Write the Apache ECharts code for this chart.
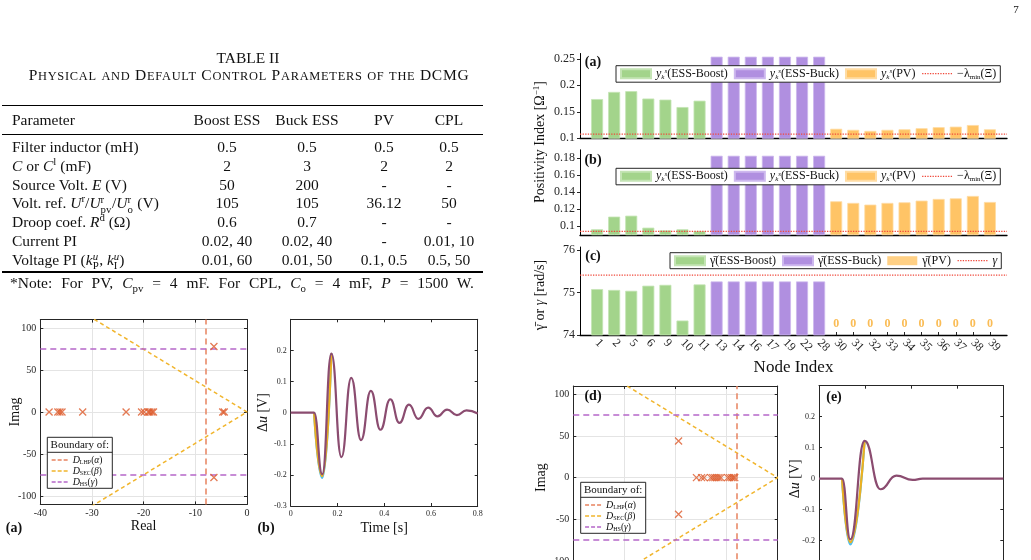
<!DOCTYPE html>
<html>
<head>
<meta charset="utf-8">
<script src="https://cdn.jsdelivr.net/npm/echarts@6/dist/echarts.min.js"></script>
<style>
body { margin: 0; background: #fff; }
#page { position: relative; width: 1031px; height: 560px; overflow: hidden; font-family: 'Liberation Serif', 'DejaVu Serif', serif; color: #111; }
#container { position: absolute; left: 0; top: 0; width: 1031px; height: 560px; }
.t { position: absolute; white-space: nowrap; font-size: 15.5px; line-height: 1; }
.c { transform: translate(-50%, -50%); }
.l { transform: translateY(-50%); }
.rule { position: absolute; left: 2px; width: 481px; background: #000; }
sup, sub { font-size: 0.7em; line-height: 0; }
.ss { display: inline-block; position: relative; height: 1em; font-size: 0.7em; line-height: 1; }
.ss .u { position: absolute; left: 0; top: -0.3em; }
.ss .d { position: absolute; left: 0; bottom: -0.55em; }
</style>
</head>
<body>
<div id="page">
	<div id="container"></div>
	<div id="table"></div>
	<div class="t c" style="left:1016px;top:9px;font-size:11px;">7</div>
</div>
<script>
// ---- table ----
function ss(up, down, w) {
	return '<span class="ss" style="width:' + w + 'em"><span class="u">' + up + '</span><span class="d">' + down + '</span></span>';
}
var tableTitle = 'TABLE II';
var tableCaption = 'Physical and Default Control Parameters of the DCMG';
var tableHeader = ['Parameter', 'Boost ESS', 'Buck ESS', 'PV', 'CPL'];
var tableRows = [
	['Filter inductor (mH)', '0.5', '0.5', '0.5', '0.5'],
	['<i>C</i> or <i>C</i><sup>l</sup> (mF)', '2', '3', '2', '2'],
	['Source Volt. <i>E</i> (V)', '50', '200', '-', '-'],
	['Volt. ref. <i>U</i><sup>r</sup>/<i>U</i>' + ss('r', 'pv', 1.05) + '/<i>U</i>' + ss('r', 'o', 0.55) + ' (V)', '105', '105', '36.12', '50'],
	['Droop coef. <i>R</i><sup>d</sup> (&Omega;)', '0.6', '0.7', '-', '-'],
	['Current PI', '0.02, 40', '0.02, 40', '-', '0.01, 10'],
	['Voltage PI (<i>k</i>' + ss('<i>u</i>', 'P', 0.6) + ', <i>k</i>' + ss('<i>u</i>', 'I', 0.5) + ')', '0.01, 60', '0.01, 50', '0.1, 0.5', '0.5, 50']
];
var tableNote = '*Note: For PV, <i>C</i><sub>pv</sub> = 4 mF. For CPL, <i>C</i><sub>o</sub> = 4 mF, <i>P</i> = 1500 W.';

// ---- top right: positivity index and gamma bars ----
var nodeLabels = ['1', '2', '5', '6', '9', '10', '11', '13', '14', '16', '17', '19', '22', '28',
	'30', '31', '32', '33', '34', '35', '36', '37', '38', '39'];
var boostA = [0.174, 0.1875, 0.189, 0.175, 0.173, 0.159, 0.171];
var buckA = [0.254, 0.254, 0.254, 0.254, 0.254, 0.254, 0.254];
var pvA = [0.118, 0.116, 0.114, 0.116, 0.117, 0.119, 0.121, 0.122, 0.125, 0.117];
var lambdaA = 0.108;
var boostB = [0.0965, 0.1114, 0.1125, 0.0984, 0.0953, 0.0965, 0.0945];
var buckB = [0.183, 0.183, 0.183, 0.183, 0.183, 0.183, 0.183];
var pvB = [0.1294, 0.1275, 0.1255, 0.1275, 0.1282, 0.1302, 0.1322, 0.1329, 0.1357, 0.1286];
var lambdaB = 0.0941;
var gammaBoost = [75.08, 75.06, 75.04, 75.16, 75.18, 74.34, 75.19];
var gammaBuck = [75.26, 75.26, 75.26, 75.26, 75.26, 75.26, 75.26];
var gammaPv = [0, 0, 0, 0, 0, 0, 0, 0, 0, 0];
var gammaRef = 75.41;

// ---- pole maps ----
var polesAReal = [-38.3, -36.6, -36.2, -35.8, -31.8, -23.4, -20.4, -19.9, -19.1, -18.8, -18.4, -18.1, -4.7, -4.4, -6.4, -6.4];
var polesAImag = [0, 0, 0, 0, 0, 0, 0, 0, 0, 0, 0, 0, 0, 0, 78, -78];
var polesDReal = [-19.4, -19.4, -15.9, -14.9, -14.4, -13.1, -12.7, -12.3, -11.9, -11.5, -11.1, -9.8, -9.4, -9.0, -8.7, -8.4];
var polesDImag = [44, -44, 0, 0, 0, 0, 0, 0, 0, 0, 0, 0, 0, 0, 0, 0];
var alphaBound = 8;
var betaDeg = 75;
var gammaBound = 75;

// ---- voltage deviation (peaks and troughs) ----
var timeB = [0, 0.1, 0.135, 0.174, 0.217, 0.259, 0.301, 0.343, 0.384, 0.426, 0.465, 0.506, 0.546, 0.588, 0.628, 0.669, 0.711, 0.752, 0.8];
var duB = [0, 0, -0.198, 0.19, -0.143, 0.112, -0.088, 0.07, -0.055, 0.043, -0.033, 0.026, -0.02, 0.016, -0.012, 0.01, -0.008, 0.007, -0.003];
var timeDipB = [0.1, 0.135, 0.174];
var duDipB1 = [0, -0.21, 0.19];
var duDipB2 = [0, -0.204, 0.19];
var timeE = [0, 0.1, 0.136, 0.198, 0.267, 0.336, 0.406, 0.45, 0.8];
var duE = [0, 0, -0.196, 0.122, -0.034, 0.01, -0.004, 0, 0];
var timeDipE = [0.1, 0.136, 0.198];
var duDipE1 = [0, -0.212, 0.122];
var duDipE2 = [0, -0.205, 0.122];

// build table
(function () {
	var h = '';
	var colX = [12, 227, 307, 384, 449];
	var cap = tableCaption.split('').map(function (ch) {
		if (ch === ' ') return ' ';
		if (ch === ch.toUpperCase()) return ch;
		return '<span style="font-size:0.8em">' + ch.toUpperCase() + '</span>';
	}).join('');
	h += '<div class="t c" style="left:248px;top:58px;">' + tableTitle + '</div>';
	h += '<div class="t c" style="left:249px;top:75px;letter-spacing:0.72px;">' + cap + '</div>';
	h += '<div class="rule" style="top:105px;height:1.4px;"></div>';
	h += '<div class="rule" style="top:133.5px;height:0.8px;"></div>';
	h += '<div class="rule" style="top:271px;height:1.6px;"></div>';
	tableHeader.forEach(function (txt, j) {
		h += '<div class="t ' + (j ? 'c' : 'l') + '" style="left:' + colX[j] + 'px;top:120px;">' + txt + '</div>';
	});
	tableRows.forEach(function (row, i) {
		var y = 147 + i * 18.83;
		row.forEach(function (txt, j) {
			h += '<div class="t ' + (j ? 'c' : 'l') + '" style="left:' + colX[j] + 'px;top:' + y + 'px;">' + txt + '</div>';
		});
	});
	h += '<div class="t c" style="left:242px;top:283px;word-spacing:5px;">' + tableNote + '</div>';
	document.getElementById('table').innerHTML = h;
})();

var SERIF = "'Liberation Serif', 'DejaVu Serif', serif";
var AX = '#262626';
var GREEN = '#a3d48b', PURPLE = '#b08fe0', ORANGE = '#ffc466', RED = '#f0483a';
var C_LHP = '#e8835f', C_SEC = '#f1b52d', C_HS = '#b567c9';

function pos(vals, start) {
	return vals.map(function (v, i) { return [start + i + 1, v]; });
}
var ticks24 = nodeLabels.map(function (n, i) { return i + 1; });

var legendRich = {
	i: { fontStyle: 'italic', fontFamily: SERIF, fontSize: 12 },
	sb: { fontStyle: 'italic', fontFamily: SERIF, fontSize: 7, padding: [6, 0, 0, 0] },
	sp: { fontStyle: 'italic', fontFamily: SERIF, fontSize: 7, padding: [0, 0, 5, 0] },
	sm: { fontFamily: SERIF, fontSize: 7, padding: [6, 0, 0, 0] },
	n: { fontFamily: SERIF, fontSize: 12 },
	d: { fontStyle: 'italic', fontFamily: SERIF, fontSize: 10 },
	ds: { fontFamily: SERIF, fontSize: 6, padding: [4, 0, 0, 0] },
	dn: { fontFamily: SERIF, fontSize: 9.5 },
	di: { fontStyle: 'italic', fontFamily: SERIF, fontSize: 9.5 }
};
var legendText = {
	'yₖˢ(ESS-Boost)': '{i|y}{sb|k}{sp|s}{n|(ESS-Boost)}',
	'yₖˢ(ESS-Buck)': '{i|y}{sb|k}{sp|s}{n|(ESS-Buck)}',
	'yₖˢ(PV)': '{i|y}{sb|k}{sp|s}{n|(PV)}',
	'−λmin(Ξ)': '{n|−λ}{sm|min}{n|(Ξ)}',
	'γ̄(ESS-Boost)': '{n|γ̄(ESS-Boost)}',
	'γ̄(ESS-Buck)': '{n|γ̄(ESS-Buck)}',
	'γ̄(PV)': '{n|γ̄(PV)}',
	'γ': '{i|γ}',
	'D_LHP(α)': '{d|D}{ds|LHP}{dn|(}{di|α}{dn|)}',
	'D_SEC(β)': '{d|D}{ds|SEC}{dn|(}{di|β}{dn|)}',
	'D_HS(γ)': '{d|D}{ds|HS}{dn|(}{di|γ}{dn|)}'
};
function legendFmt(name) { return legendText[name] || name; }

// ---------- axes ----------
function barX(g, labels) {
	return {
		gridIndex: g, type: 'value', min: 0, max: 25,
		axisLine: { onZero: false, lineStyle: { color: '#000', width: 1.3 } },
		axisTick: { inside: true, length: 3, customValues: ticks24, lineStyle: { color: AX } },
		axisLabel: labels ? {
			customValues: ticks24, rotate: -45, fontSize: 12, fontFamily: SERIF, color: AX, margin: 6,
			formatter: function (v) { return nodeLabels[Math.round(v) - 1]; }
		} : { show: false },
		splitLine: { show: false },
		name: labels ? 'Node Index' : '', nameLocation: 'middle', nameGap: 24.5, nameMoveOverlap: false,
		nameTextStyle: { fontSize: 17, fontFamily: SERIF, color: '#111' }
	};
}
function barY(g, min, max, vals) {
	return {
		gridIndex: g, type: 'value', min: min, max: max,
		axisLine: { show: true, onZero: false, lineStyle: { color: '#000', width: 1 } },
		axisTick: { show: true, inside: false, length: 3, customValues: vals, lineStyle: { color: AX } },
		axisLabel: { customValues: vals, fontSize: 12, fontFamily: SERIF, color: AX, margin: 5 },
		splitLine: { show: false }
	};
}
function boxX(g, min, max, name, fs, grid) {
	return [{
		gridIndex: g, type: 'value', min: min, max: max, position: 'bottom',
		axisLine: { onZero: false, lineStyle: { color: AX } },
		axisTick: { inside: true, length: 3, lineStyle: { color: AX } },
		axisLabel: { fontSize: fs, fontFamily: SERIF, color: AX, margin: 4 },
		splitLine: { show: grid, lineStyle: { color: '#e4e4e4' } },
		name: name, nameLocation: 'middle', nameGap: 15.3, nameMoveOverlap: false,
		nameTextStyle: { fontSize: 14, fontFamily: SERIF, color: '#111' }
	}, {
		gridIndex: g, type: 'value', min: min, max: max, position: 'top',
		axisLine: { onZero: false, lineStyle: { color: AX } },
		axisTick: { inside: true, length: 3, lineStyle: { color: AX } },
		axisLabel: { show: false }, splitLine: { show: false }
	}];
}
function boxY(g, min, max, name, fs, grid, gap) {
	return [{
		gridIndex: g, type: 'value', min: min, max: max, position: 'left',
		axisLine: { show: true, onZero: false, lineStyle: { color: AX } },
		axisTick: { show: true, inside: true, length: 3, lineStyle: { color: AX } },
		axisLabel: { fontSize: fs, fontFamily: SERIF, color: AX, margin: 4, showMinLabel: min > -1, showMaxLabel: false },
		splitLine: { show: grid, lineStyle: { color: '#e4e4e4' } },
		name: name, nameLocation: 'middle', nameGap: gap, nameRotate: 90, nameMoveOverlap: false,
		nameTextStyle: { fontSize: 14, fontFamily: SERIF, color: '#111', rich: {
			i: { fontStyle: 'italic', fontSize: 14, fontFamily: SERIF },
			n: { fontSize: 14, fontFamily: SERIF }
		} }
	}, {
		gridIndex: g, type: 'value', min: min, max: max, position: 'right',
		axisLine: { show: true, onZero: false, lineStyle: { color: AX } },
		axisTick: { show: true, inside: true, length: 3, lineStyle: { color: AX } },
		axisLabel: { show: false }, splitLine: { show: false }
	}];
}

var xAxes = [barX(0, false), barX(1, false), barX(2, true)]
	.concat(boxX(3, -40, 0, 'Real', 10, true))
	.concat(boxX(4, 0, 0.8, 'Time [s]', 8, false))
	.concat(boxX(5, -40, 0, 'Real', 10, true))
	.concat(boxX(6, 0, 0.8, 'Time [s]', 8, false));
var yAxes = [
	barY(0, 0.1, 0.26, [0.1, 0.15, 0.2, 0.25]),
	barY(1, 0.09, 0.19, [0.1, 0.12, 0.14, 0.16, 0.18]),
	barY(2, 74, 76.07, [74, 75, 76])
].concat(boxY(3, -110, 110, 'Imag', 10, true, 18))
	.concat(boxY(4, -0.3, 0.3, '{n|Δ}{i|u}{n| [V]}', 8, false, 20))
	.concat(boxY(5, -110, 110, 'Imag', 10, true, 24.5))
	.concat(boxY(6, -0.3, 0.3, '{n|Δ}{i|u}{n| [V]}', 8, false, 17));

// ---------- series ----------
var series = [];
function barSet(ax, boost, buck, pv, refVal, names, pvAsText) {
	var barCommon = {
		type: 'bar', xAxisIndex: ax, yAxisIndex: ax, stack: 'g' + ax, barWidth: 12,
		silent: true, animation: false
	};
	series.push(Object.assign({}, barCommon, { name: names[0], data: pos(boost, 0),
		itemStyle: { color: GREEN, borderColor: '#c4e4b4', borderWidth: 0.8 } }));
	series.push(Object.assign({}, barCommon, { name: names[1], data: pos(buck, 7),
		itemStyle: { color: PURPLE, borderColor: '#cdb8ee', borderWidth: 0.8 } }));
	if (pvAsText) {
		series.push({
			type: 'scatter', name: names[2], xAxisIndex: ax, yAxisIndex: ax, symbolSize: 0,
			silent: true, animation: false, itemStyle: { color: ORANGE },
			data: pv.map(function (v, i) { return { value: [15 + i, 74], raw: v }; }),
			label: { show: true, position: 'top', distance: 5, color: '#f9ab2a', fontSize: 12,
				fontFamily: SERIF, fontWeight: 'bold',
				formatter: function (p) { return String(p.data.raw); } }
		});
	} else {
		series.push(Object.assign({}, barCommon, { name: names[2], data: pos(pv, 14),
			itemStyle: { color: ORANGE, borderColor: '#ffdca3', borderWidth: 0.8 } }));
	}
	series.push({
		type: 'line', name: names[3], xAxisIndex: ax, yAxisIndex: ax, symbol: 'none', silent: true,
		animation: false, z: 5, itemStyle: { color: RED },
		lineStyle: { color: RED, width: 1.3, type: 'dotted' },
		data: [[0, refVal], [25, refVal]]
	});
}
var yNames = ['yₖˢ(ESS-Boost)', 'yₖˢ(ESS-Buck)', 'yₖˢ(PV)', '−λmin(Ξ)'];
var gNames = ['γ̄(ESS-Boost)', 'γ̄(ESS-Buck)', 'γ̄(PV)', 'γ'];
barSet(0, boostA, buckA, pvA, lambdaA, yNames, false);
barSet(1, boostB, buckB, pvB, lambdaB, yNames, false);
barSet(2, gammaBoost, gammaBuck, gammaPv, gammaRef, gNames, true);

var secSlope = Math.tan(betaDeg * Math.PI / 180);
function poleSet(ax, re, im) {
	series.push({
		type: 'line', name: 'D_LHP(α)', xAxisIndex: ax, yAxisIndex: ax, symbol: 'none', silent: true,
		animation: false, data: [], itemStyle: { color: C_LHP }, lineStyle: { color: C_LHP, width: 1.5, type: [6, 4] },
		markLine: { silent: true, symbol: 'none', label: { show: false }, animation: false,
			lineStyle: { color: C_LHP, width: 1.5, type: [6, 4] },
			data: [{ xAxis: -alphaBound }] }
	});
	series.push({
		type: 'line', name: 'D_SEC(β)', xAxisIndex: ax, yAxisIndex: ax, symbol: 'none', silent: true,
		animation: false, itemStyle: { color: C_SEC }, lineStyle: { color: C_SEC, width: 1.5, type: [4, 3] },
		data: [[-40, 40 * secSlope], [0, 0], [-40, -40 * secSlope]]
	});
	series.push({
		type: 'line', name: 'D_HS(γ)', xAxisIndex: ax, yAxisIndex: ax, symbol: 'none', silent: true,
		animation: false, data: [], itemStyle: { color: C_HS }, lineStyle: { color: C_HS, width: 1.5, type: [6, 4] },
		markLine: { silent: true, symbol: 'none', label: { show: false }, animation: false,
			lineStyle: { color: C_HS, width: 1.5, type: [6, 4] },
			data: [{ yAxis: gammaBound }, { yAxis: -gammaBound }] }
	});
	series.push({
		type: 'scatter', name: 'poles', xAxisIndex: ax, yAxisIndex: ax, silent: true, animation: false,
		symbol: 'path://M0,0L10,10M10,0L0,10', symbolSize: 7, z: 6,
		itemStyle: { color: 'rgba(0,0,0,0)', borderColor: '#dd5a2b', borderWidth: 1.3 },
		data: re.map(function (r, i) { return [r, im[i]]; })
	});
}
poleSet(3, polesAReal, polesAImag);
poleSet(7, polesDReal, polesDImag);

function zip(t, v) { return t.map(function (x, i) { return [x, v[i]]; }); }
function waveSet(ax, t, v, tDip, dip1, dip2) {
	var common = { type: 'line', xAxisIndex: ax, yAxisIndex: ax, symbol: 'none', silent: true,
		animation: false, smooth: 0.5, smoothMonotone: 'x' };
	series.push(Object.assign({}, common, { name: 'n1', data: zip(tDip, dip1), lineStyle: { color: '#4dbeee', width: 2.2 } }));
	series.push(Object.assign({}, common, { name: 'n2', data: zip(tDip, dip2), lineStyle: { color: '#edb120', width: 2.2 } }));
	series.push(Object.assign({}, common, { name: 'n3', data: zip(t, v), lineStyle: { color: '#8b4c70', width: 2.2 } }));
}
waveSet(5, timeB, duB, timeDipB, duDipB1, duDipB2);
waveSet(9, timeE, duE, timeDipE, duDipE1, duDipE2);

// ---------- legends ----------
var noSymbol = { opacity: 0 };
function topLegend(left, top, names) {
	return {
		left: left, top: top, orient: 'horizontal', z: 20,
		itemWidth: 30, itemHeight: 9, itemGap: 6, padding: [2, 4],
		borderColor: AX, borderWidth: 1, backgroundColor: '#fff',
		selectedMode: false,
		data: names.map(function (n, i) {
			return i < 3 ? { name: n, icon: 'rect' }
				: { name: n, itemStyle: noSymbol, lineStyle: { color: RED, width: 1.3, type: 'dotted' } };
		}),
		formatter: legendFmt,
		textStyle: { fontSize: 12, fontFamily: SERIF, color: '#111', padding: [0, 0, 0, 0], rich: legendRich }
	};
}
function poleLegend(left, top) {
	return {
		left: left, top: top, orient: 'vertical', z: 20, padding: 0,
		itemWidth: 16, itemHeight: 8, itemGap: 1, selectedMode: false,
		data: [
			{ name: 'D_LHP(α)', itemStyle: noSymbol, lineStyle: { color: C_LHP, width: 1.3, type: [4, 2] } },
			{ name: 'D_SEC(β)', itemStyle: noSymbol, lineStyle: { color: C_SEC, width: 1.3, type: [4, 2] } },
			{ name: 'D_HS(γ)', itemStyle: noSymbol, lineStyle: { color: C_HS, width: 1.3, type: [4, 2] } }
		],
		formatter: legendFmt,
		textStyle: { fontSize: 9.5, fontFamily: SERIF, color: '#111', lineHeight: 9.5, rich: legendRich }
	};
}
function legendBox(x, y) {
	return [
		{ type: 'rect', z: 15, shape: { x: x, y: y, width: 65, height: 51 },
			style: { fill: '#fff', stroke: AX, lineWidth: 1 } },
		{ type: 'text', z: 16, x: x + 32.5, y: y + 8,
			style: { text: 'Boundary of:', font: '11px ' + SERIF, fill: '#111', textAlign: 'center', textVerticalAlign: 'middle' } },
		{ type: 'line', z: 16, shape: { x1: x, y1: y + 15, x2: x + 65, y2: y + 15 },
			style: { stroke: AX, lineWidth: 1 } }
	];
}
function tag(x, y, s) {
	return { type: 'text', z: 30, x: x, y: y,
		style: { text: s, font: 'bold 14px ' + SERIF, fill: '#111', textAlign: 'center', textVerticalAlign: 'middle' } };
}

var graphics = [].concat(legendBox(47.3, 437.3), legendBox(580.7, 482.3), [
	tag(593, 62, '(a)'), tag(593, 160, '(b)'), tag(593, 256, '(c)'),
	tag(14, 528, '(a)'), tag(266, 528, '(b)'), tag(593, 396, '(d)'), tag(834, 397, '(e)'),
	{ type: 'text', z: 30, x: 540, y: 142, rotation: Math.PI / 2,
		style: { text: 'Positivity Index [Ω{sp|−1}]', font: '14px ' + SERIF, fill: '#111',
			textAlign: 'center', textVerticalAlign: 'middle',
			rich: { sp: { fontSize: 9, fontFamily: SERIF, padding: [0, 0, 7, 0] } } } },
	{ type: 'text', z: 30, x: 540, y: 295, rotation: Math.PI / 2,
		style: { text: '{n|γ̄ or }{i|γ}{n| [rad/s]}', font: '14px ' + SERIF, fill: '#111',
			textAlign: 'center', textVerticalAlign: 'middle',
			rich: { n: { fontSize: 14, fontFamily: SERIF }, i: { fontSize: 14, fontFamily: SERIF, fontStyle: 'italic' } } } }
]);

var myChart = echarts.init(document.getElementById('container'));
var option = {
	backgroundColor: 'transparent',
	animation: false,
	grid: [
		{ left: 580, top: 53.5, width: 427, height: 84.8, outerBoundsMode: 'none' },
		{ left: 580, top: 149.8, width: 427, height: 85, outerBoundsMode: 'none' },
		{ left: 580, top: 247, width: 427, height: 88, outerBoundsMode: 'none' },
		{ left: 40.3, top: 319.6, width: 206.7, height: 184.8, outerBoundsMode: 'none' },
		{ left: 290.7, top: 319.3, width: 187, height: 186.7, outerBoundsMode: 'none' },
		{ left: 573.3, top: 386, width: 204.4, height: 183.3, outerBoundsMode: 'none' },
		{ left: 819, top: 385.7, width: 184.3, height: 186, outerBoundsMode: 'none' }
	],
	xAxis: xAxes,
	yAxis: yAxes,
	legend: [
		topLegend(616, 65.7, yNames),
		topLegend(616, 168.3, yNames),
		topLegend(670, 252.7, gNames),
		poleLegend(51, 455),
		poleLegend(584.4, 500)
	],
	graphic: graphics,
	series: series
};
myChart.setOption(option);
</script>
</body>
</html>
